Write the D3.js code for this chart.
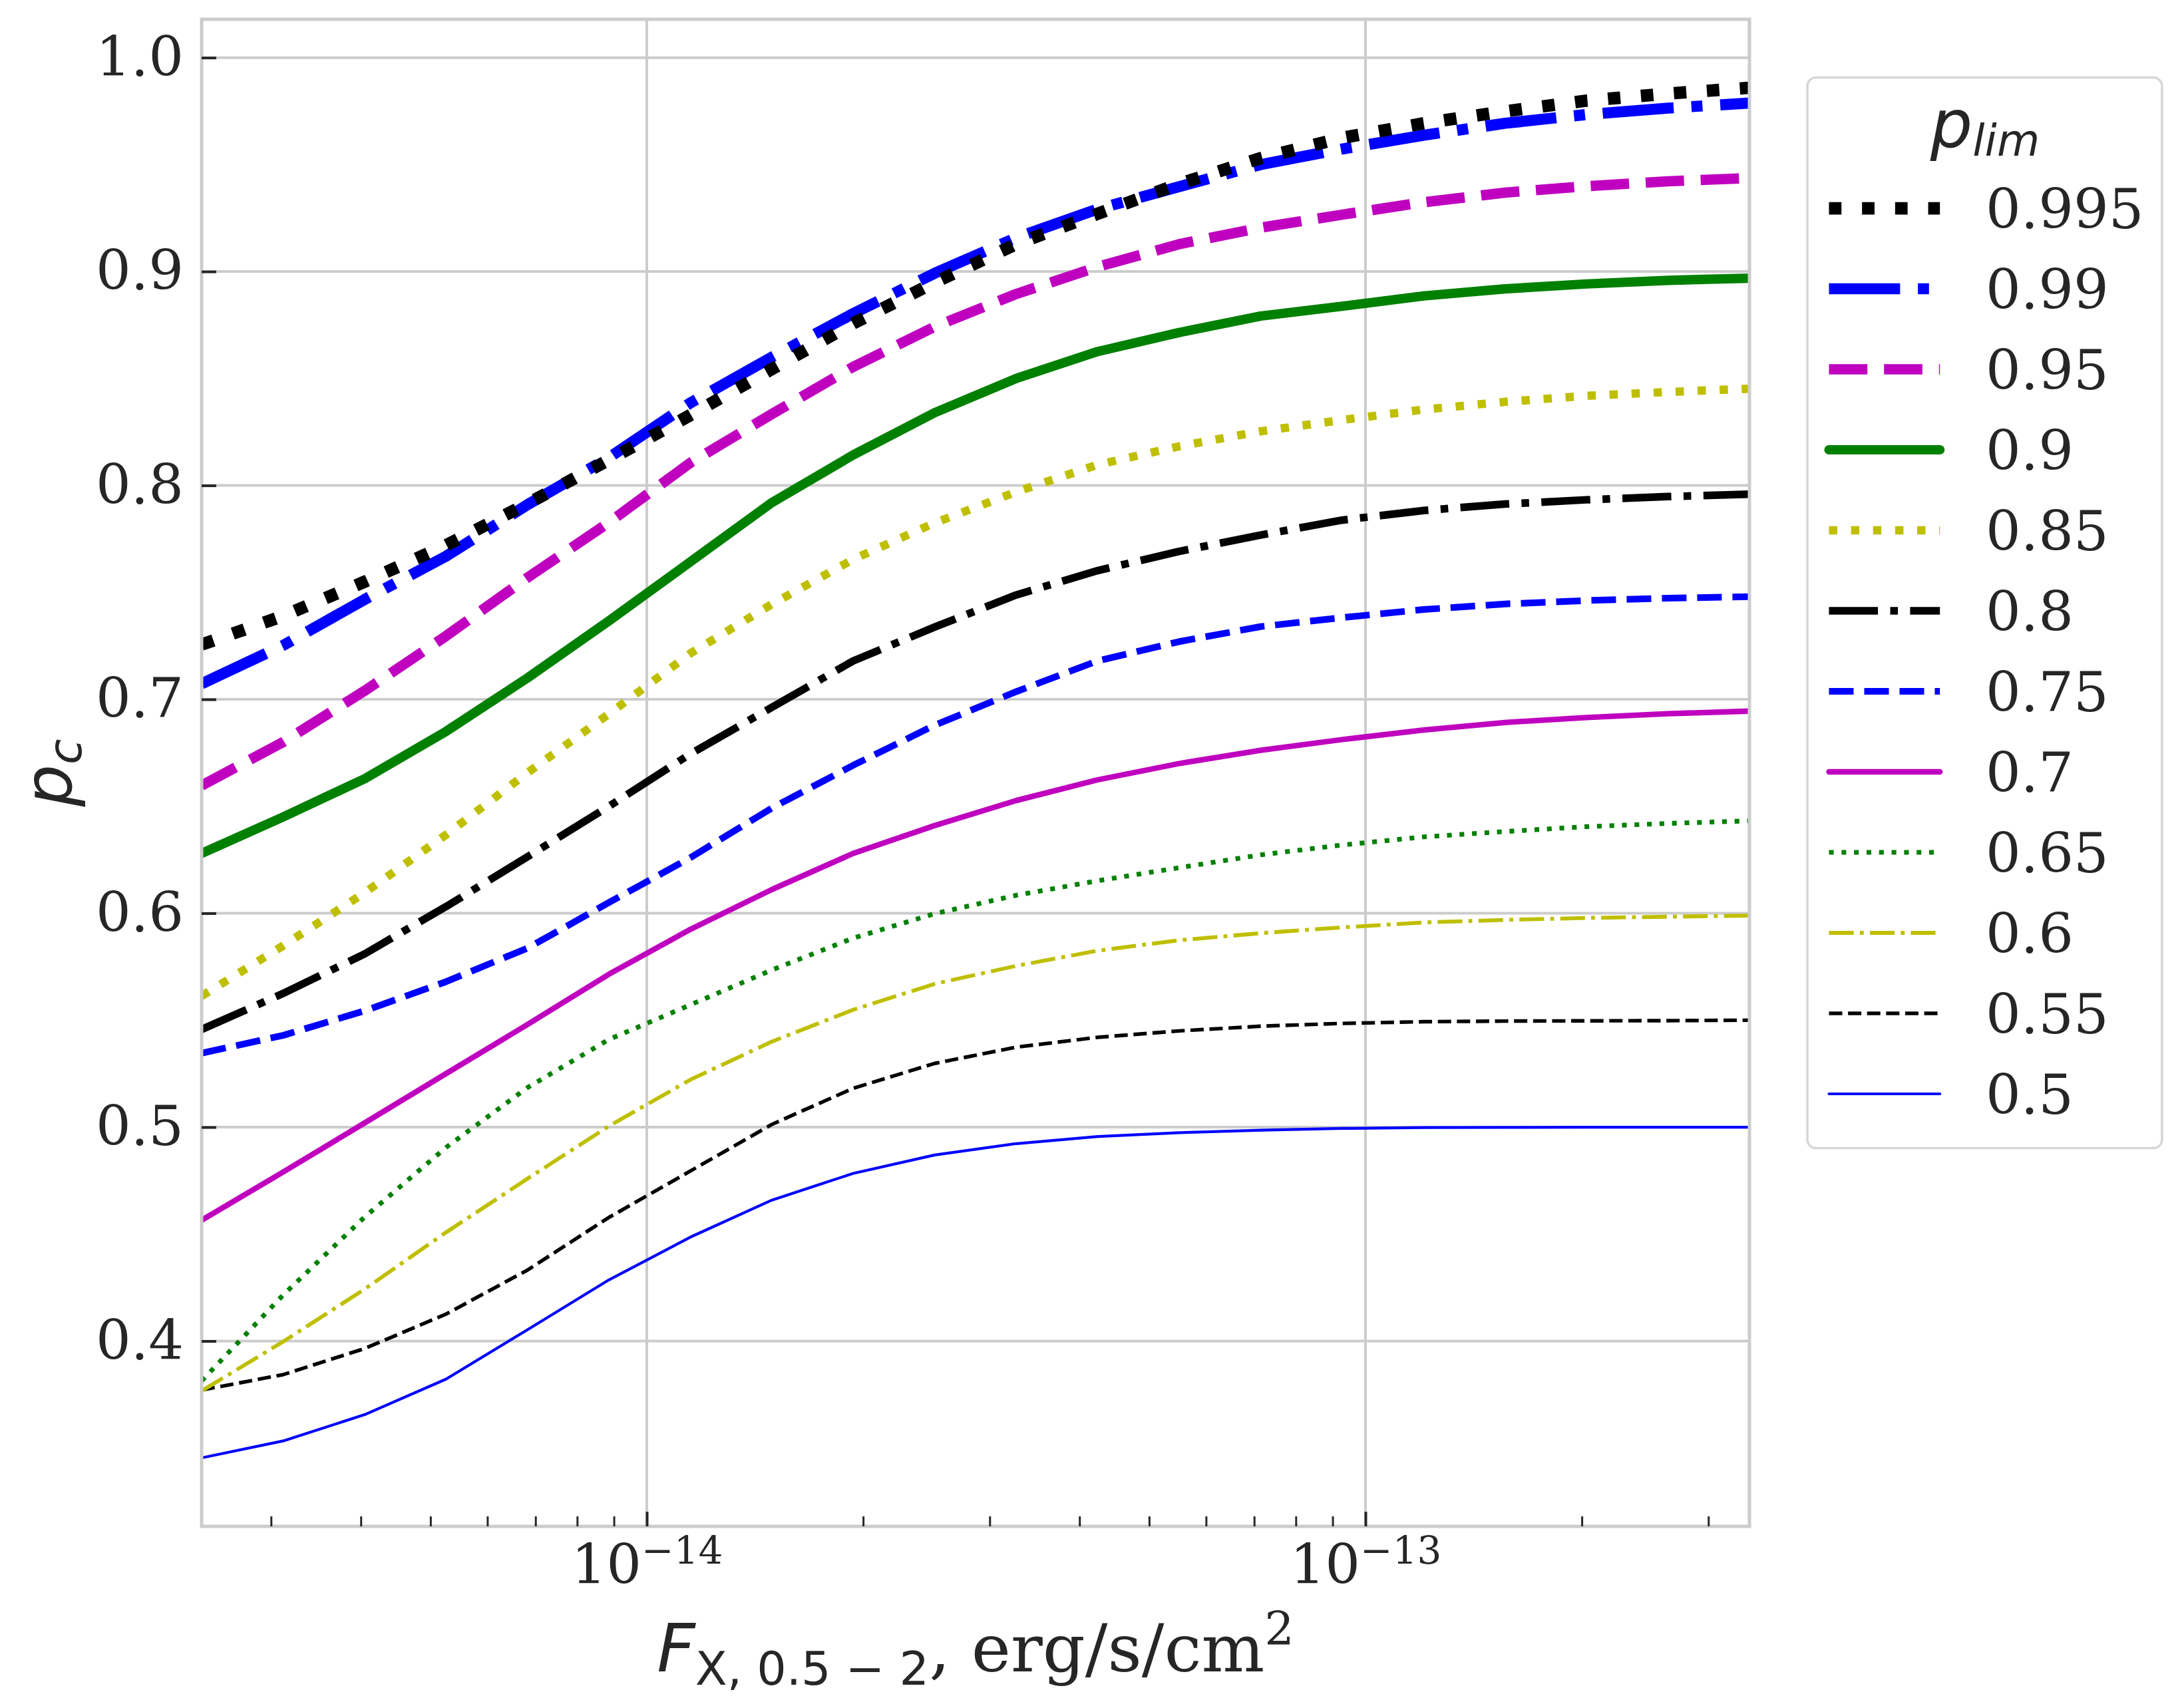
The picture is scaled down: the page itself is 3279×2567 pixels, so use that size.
<!DOCTYPE html>
<html>
<head>
<meta charset="utf-8">
<script src="https://cdn.jsdelivr.net/npm/d3@7"></script>
<style>
  body { margin: 0; background: #fff; }
  svg { display: block; }
</style>
</head>
<body>
<svg id="chart"></svg>
<script>
// flux grid, erg/s/cm^2
const fluxes = [2.402e-15, 3.118e-15, 4.050e-15, 5.255e-15, 6.823e-15, 8.857e-15,
  1.150e-14, 1.493e-14, 1.938e-14, 2.515e-14, 3.266e-14, 4.240e-14, 5.506e-14,
  7.147e-14, 9.279e-14, 1.205e-13, 1.564e-13, 2.030e-13, 2.636e-13, 3.422e-13];

const limits = ["0.995", "0.99", "0.95", "0.9", "0.85", "0.8", "0.75", "0.7", "0.65", "0.6", "0.55", "0.5"];

const p995 = [0.7256, 0.739, 0.755, 0.772, 0.7915, 0.812, 0.8329, 0.8544, 0.8758, 0.8949, 0.9128, 0.927, 0.941, 0.953, 0.9625, 0.9693, 0.9749, 0.9799, 0.9832, 0.9859];
const p99  = [0.7073, 0.7252, 0.7467, 0.7669, 0.791, 0.813, 0.8386, 0.860, 0.8804, 0.8992, 0.9158, 0.9292, 0.9397, 0.950, 0.9573, 0.9637, 0.9693, 0.9734, 0.9764, 0.9788];
const p95  = [0.6597, 0.680, 0.704, 0.7296, 0.7569, 0.7827, 0.8106, 0.8334, 0.8555, 0.8742, 0.8895, 0.9022, 0.9128, 0.9205, 0.9266, 0.9324, 0.9369, 0.9399, 0.9422, 0.9437];
const p90  = [0.628, 0.645, 0.6629, 0.685, 0.710, 0.7367, 0.7643, 0.792, 0.8143, 0.834, 0.850, 0.8626, 0.8715, 0.8792, 0.8838, 0.8886, 0.8919, 0.8942, 0.8959, 0.8969];
const p85  = [0.5613, 0.5848, 0.6096, 0.6367, 0.6657, 0.6932, 0.7215, 0.7445, 0.7655, 0.7825, 0.797, 0.8097, 0.8183, 0.8253, 0.8306, 0.8355, 0.8391, 0.8419, 0.8437, 0.8452];
const p80  = [0.5457, 0.5625, 0.581, 0.6031, 0.6264, 0.650, 0.6745, 0.6963, 0.718, 0.7338, 0.7488, 0.7602, 0.7692, 0.7768, 0.7838, 0.7883, 0.7913, 0.7933, 0.7948, 0.7959];
const p75  = [0.5346, 0.5429, 0.5544, 0.568, 0.5837, 0.605, 0.626, 0.6492, 0.6692, 0.6879, 0.7036, 0.718, 0.727, 0.734, 0.7382, 0.742, 0.7446, 0.7462, 0.7473, 0.748];
const p70  = [0.4565, 0.479, 0.502, 0.525, 0.548, 0.5715, 0.5925, 0.6111, 0.628, 0.641, 0.6527, 0.6624, 0.670, 0.6762, 0.6812, 0.6857, 0.6892, 0.6915, 0.6933, 0.6945];
const p65  = [0.3814, 0.4215, 0.458, 0.4905, 0.5185, 0.541, 0.5572, 0.5735, 0.5884, 0.5998, 0.6084, 0.6152, 0.6213, 0.6273, 0.6319, 0.6357, 0.6382, 0.6405, 0.642, 0.6432];
const p60  = [0.3767, 0.3997, 0.4243, 0.4508, 0.4759, 0.5005, 0.5222, 0.540, 0.5549, 0.567, 0.5754, 0.5825, 0.5874, 0.5907, 0.5934, 0.5957, 0.5969, 0.5978, 0.5984, 0.5989];
const p55  = [0.3771, 0.3843, 0.3965, 0.4126, 0.4332, 0.4578, 0.4795, 0.5013, 0.5182, 0.5298, 0.5374, 0.542, 0.545, 0.5472, 0.5485, 0.5493, 0.5496, 0.5497, 0.5498, 0.550];
const p50  = [0.3454, 0.3533, 0.3656, 0.3822, 0.4053, 0.4286, 0.4486, 0.4659, 0.4784, 0.487, 0.4923, 0.4956, 0.4974, 0.4986, 0.4994, 0.4998, 0.4999, 0.500, 0.500, 0.500];

const series = [p995, p99, p95, p90, p85, p80, p75, p70, p65, p60, p55, p50];

const yTicks = [0.4, 0.5, 0.6, 0.7, 0.8, 0.9, 1.0];
const xMajor = [1e-14, 1e-13];
const xMinor = [3e-15, 4e-15, 5e-15, 6e-15, 7e-15, 8e-15, 9e-15,
  2e-14, 3e-14, 4e-14, 5e-14, 6e-14, 7e-14, 8e-14, 9e-14, 2e-13, 3e-13];

// matplotlib-ish styles: k: b-. m-- g- y: ...
const colors = ["#000000", "#0000ff", "#bf00bf", "#008000", "#bfbf00", "#000000",
  "#0000ff", "#bf00bf", "#008000", "#bfbf00", "#000000", "#0000ff"];
const dashes = [":", "-.", "--", "-", ":", "-.", "--", "-", ":", "-.", "--", "-"];
const widths = [18.75, 16.7, 15.6, 14.2, 12.5, 11.5, 10, 8.3, 7.1, 5.8, 5.4, 4.2];

const W = 3279, H = 2567;
const plotL = 303, plotR = 2629, plotT = 29, plotB = 2294;
const TEXT = "#262626";
const SERIF = "'DejaVu Serif', serif";
const MATH = "'DejaVu Sans', sans-serif";

function dashArray(style, lw) {
  if (style === ":") return [1, 1.65].map(d => d * lw).join(",");
  if (style === "--") return [3.7, 1.6].map(d => d * lw).join(",");
  if (style === "-.") return [6.4, 1.6, 1, 1.6].map(d => d * lw).join(",");
  return null;
}

const svg = d3.select("#chart").attr("width", W).attr("height", H);
svg.append("rect").attr("width", W).attr("height", H).attr("fill", "#fff");

const x = d3.scaleLog().domain(d3.extent(fluxes)).range([plotL, plotR]);
const allVals = series.flat();
const lo = d3.min(allVals), hi = d3.max(allVals), pad = 0.05 * (hi - lo);
const y = d3.scaleLinear().domain([lo - pad, hi + pad]).range([plotB, plotT]);

svg.append("defs").append("clipPath").attr("id", "plotclip")
  .append("rect").attr("x", plotL).attr("y", plotT)
  .attr("width", plotR - plotL).attr("height", plotB - plotT);

// grid
const grid = svg.append("g").attr("stroke", "#cccccc").attr("stroke-width", 4);
grid.selectAll(".gy").data(yTicks).enter().append("line")
  .attr("x1", plotL).attr("x2", plotR)
  .attr("y1", d => y(d)).attr("y2", d => y(d));
grid.selectAll(".gx").data(xMajor).enter().append("line")
  .attr("y1", plotT).attr("y2", plotB)
  .attr("x1", d => x(d)).attr("x2", d => x(d));

// curves, drawn from 0.5 upward so the top ones sit above
const line = d3.line().x((d, i) => x(fluxes[i])).y(d => y(d));
const curves = svg.append("g").attr("clip-path", "url(#plotclip)");
d3.range(series.length).reverse().forEach(k => {
  const p = curves.append("path")
    .attr("d", line(series[k]))
    .attr("fill", "none")
    .attr("stroke", colors[k])
    .attr("stroke-width", widths[k])
    .attr("stroke-linejoin", "round")
    .attr("stroke-linecap", dashes[k] === "-" ? "round" : "butt");
  const da = dashArray(dashes[k], widths[k]);
  if (da) p.attr("stroke-dasharray", da);
});

// frame
svg.append("rect").attr("x", plotL).attr("y", plotT)
  .attr("width", plotR - plotL).attr("height", plotB - plotT)
  .attr("fill", "none").attr("stroke", "#cccccc").attr("stroke-width", 5);

// y axis, ticks pointing in
const yAxis = svg.append("g").attr("transform", `translate(${plotL},0)`)
  .call(d3.axisLeft(y).tickValues(yTicks).tickSize(-22).tickPadding(27).tickFormat(d3.format(".1f")));
yAxis.select(".domain").remove();
yAxis.selectAll(".tick line").attr("stroke", TEXT).attr("stroke-width", 4);
yAxis.selectAll(".tick text").attr("fill", TEXT).attr("font-family", SERIF).attr("font-size", 83);

// x axis, minor then major
const xMin = svg.append("g").attr("transform", `translate(0,${plotB})`)
  .call(d3.axisBottom(x).tickValues(xMinor).tickSize(-15).tickFormat(""));
xMin.select(".domain").remove();
xMin.selectAll(".tick line").attr("stroke", TEXT).attr("stroke-width", 3);

const xAxis = svg.append("g").attr("transform", `translate(0,${plotB})`)
  .call(d3.axisBottom(x).tickValues(xMajor).tickSize(-22).tickFormat(""));
xAxis.select(".domain").remove();
xAxis.selectAll(".tick line").attr("stroke", TEXT).attr("stroke-width", 4);
xAxis.selectAll(".tick text").remove();
xAxis.selectAll(".tick").append("text")
  .attr("y", 86).attr("text-anchor", "middle")
  .attr("fill", TEXT).attr("font-family", SERIF).attr("font-size", 83)
  .each(function(d) {
    const t = d3.select(this);
    t.append("tspan").text("10");
    t.append("tspan").attr("font-size", 58).attr("dy", -30)
      .text("\u2212" + Math.abs(Math.round(Math.log10(d))));
  });

// axis labels
const xl = svg.append("text").attr("x", (plotL + plotR) / 2).attr("y", 2512)
  .attr("text-anchor", "middle").attr("fill", TEXT).attr("font-size", 100);
xl.append("tspan").attr("font-family", MATH).attr("font-style", "italic").text("F");
xl.append("tspan").attr("font-family", MATH).attr("font-size", 70).attr("dy", 20).text("X, 0.5 \u2212 2");
xl.append("tspan").attr("font-family", SERIF).attr("dy", -20).text(", erg/s/cm");
xl.append("tspan").attr("font-family", SERIF).attr("font-size", 70).attr("dy", -40).text("2");

const yl = svg.append("text")
  .attr("transform", `translate(107,${(plotT + plotB) / 2}) rotate(-90)`)
  .attr("text-anchor", "middle").attr("fill", TEXT)
  .attr("font-family", MATH).attr("font-style", "italic").attr("font-size", 100);
yl.append("tspan").text("p");
yl.append("tspan").attr("font-size", 70).attr("dy", 15).text("c");

// legend
const lg = svg.append("g").attr("transform", "translate(2716,116.5)");
lg.append("rect").attr("width", 533).attr("height", 1609).attr("rx", 13)
  .attr("fill", "#fff").attr("stroke", "#d6d6d6").attr("stroke-width", 3.5);
const lt = lg.append("text").attr("x", 267).attr("y", 104.5)
  .attr("text-anchor", "middle").attr("fill", TEXT)
  .attr("font-family", MATH).attr("font-style", "italic").attr("font-size", 100);
lt.append("tspan").text("p");
lt.append("tspan").attr("font-size", 66).attr("dy", 13).text("lim");

limits.forEach((lab, k) => {
  const cy = 196.5 + 121 * k;
  const h = lg.append("line").attr("x1", 32.5).attr("x2", 199.2)
    .attr("y1", cy).attr("y2", cy)
    .attr("stroke", colors[k]).attr("stroke-width", widths[k])
    .attr("stroke-linecap", dashes[k] === "-" ? "round" : "butt");
  const da = dashArray(dashes[k], widths[k]);
  if (da) h.attr("stroke-dasharray", da);
  lg.append("text").attr("x", 268).attr("y", cy + 30)
    .attr("fill", TEXT).attr("font-family", SERIF).attr("font-size", 83)
    .text(lab);
});
</script>
</body>
</html>
